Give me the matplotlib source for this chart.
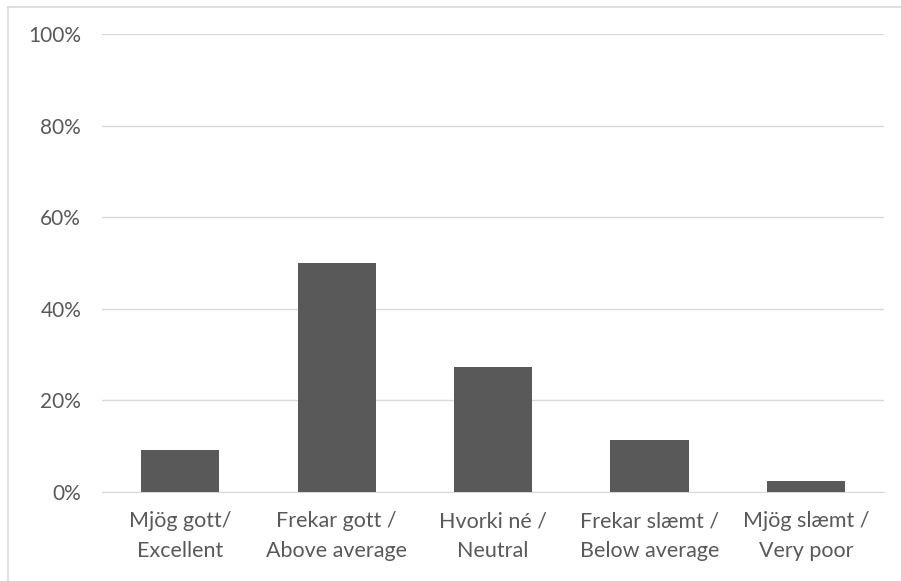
import matplotlib
matplotlib.use("Agg")
import matplotlib.pyplot as plt
from matplotlib.lines import Line2D
from matplotlib.ticker import PercentFormatter

categories = [
    "Mjög gott/\nExcellent",
    "Frekar gott /\nAbove average",
    "Hvorki né /\nNeutral",
    "Frekar slæmt /\nBelow average",
    "Mjög slæmt /\nVery poor",
]
shares = [9.1, 50.0, 27.3, 11.4, 2.3]
y_ticks = [0, 20, 40, 60, 80, 100]

text_color = "#595959"
plt.rcParams["font.family"] = ["Lato", "DejaVu Sans"]

fig = plt.figure(figsize=(9.01, 5.81), dpi=100)
ax = fig.add_axes([102 / 901, 89 / 581, 782 / 901, 458 / 581])

x = range(len(categories))
ax.bar(x, shares, width=0.5, color="#595959", zorder=3)

ax.set_xlim(-0.5, len(categories) - 0.5)
ax.set_ylim(0, 100)
ax.set_yticks(y_ticks)
ax.yaxis.set_major_formatter(PercentFormatter(decimals=0))
ax.set_xticks(list(x))
ax.set_xticklabels(categories, linespacing=1.6)
ax.grid(axis="y", color="#d9d9d9", linewidth=1.0, zorder=0)
ax.tick_params(axis="both", length=0, colors=text_color)
ax.tick_params(axis="y", pad=15, labelsize=15)
ax.tick_params(axis="x", pad=14, labelsize=15.5)
for side in ("top", "right", "left"):
    ax.spines[side].set_visible(False)
ax.spines["bottom"].set_color("#d9d9d9")

# chart frame (left and top edges visible)
fig.add_artist(Line2D([8 / 901, 8 / 901], [0, 1 - 7 / 581], transform=fig.transFigure,
                      color="#d9d9d9", linewidth=1.2))
fig.add_artist(Line2D([8 / 901, 1], [1 - 7 / 581, 1 - 7 / 581], transform=fig.transFigure,
                      color="#d9d9d9", linewidth=1.2))

fig.savefig("out.png", dpi=100)
